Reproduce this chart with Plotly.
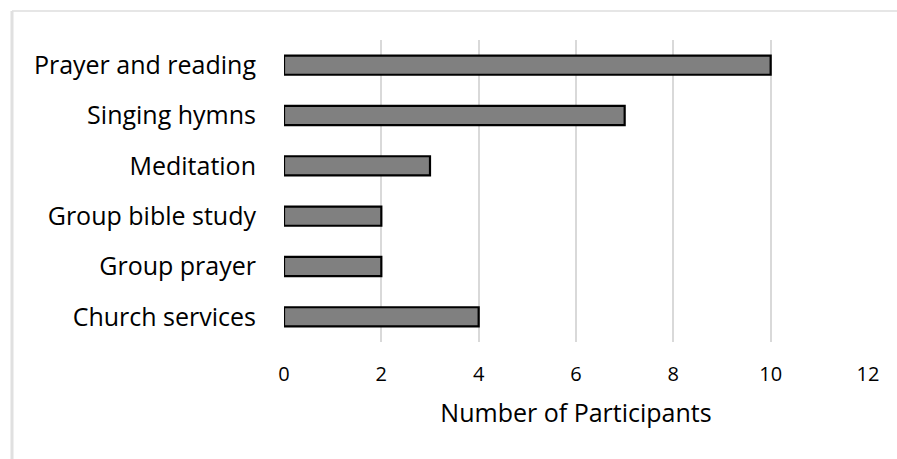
import plotly.graph_objects as go

categories = ["Prayer and reading", "Singing hymns", "Meditation",
              "Group bible study", "Group prayer", "Church services"]
participants = [10, 7, 3, 2, 2, 4]
x_ticks = [0, 2, 4, 6, 8, 10, 12]

FONT = "'Open Sans', Lato, sans-serif"

fig = go.Figure(
    go.Bar(
        x=participants,
        y=categories,
        orientation="h",
        marker=dict(color="#808080", line=dict(color="#000000", width=2.2)),
    )
)

fig.update_layout(
    width=897,
    height=459,
    margin=dict(l=284, r=29, t=40, b=117),
    paper_bgcolor="white",
    plot_bgcolor="white",
    bargap=0.62,
    showlegend=False,
    font=dict(family=FONT, color="#000000"),
    shapes=[
        dict(type="line", xref="paper", yref="paper",
             x0=(12 - 284) / 584, x1=(897 - 284) / 584,
             y0=1 + 29 / 302, y1=1 + 29 / 302,
             line=dict(color="#e6e6e6", width=2)),
        dict(type="line", xref="paper", yref="paper",
             x0=(12 - 284) / 584, x1=(12 - 284) / 584,
             y0=1 + 29 / 302, y1=-117 / 302,
             line=dict(color="#e0e0e0", width=3)),
    ],
)

fig.update_xaxes(
    range=[0, 12],
    tickvals=x_ticks,
    ticktext=[str(v) for v in x_ticks],
    showgrid=True,
    gridcolor="#d9d9d9",
    gridwidth=2,
    zeroline=False,
    showline=False,
    ticks="",
    ticklabelstandoff=18,
    tickfont=dict(size=20, family=FONT),
    title=dict(text="Number of Participants", font=dict(size=25, family=FONT), standoff=18),
)

fig.update_yaxes(
    categoryorder="array",
    categoryarray=categories[::-1],
    showgrid=False,
    zeroline=False,
    showline=False,
    ticks="",
    ticklabelstandoff=27,
    tickfont=dict(size=25, family=FONT),
)

fig.write_html("out.html")
